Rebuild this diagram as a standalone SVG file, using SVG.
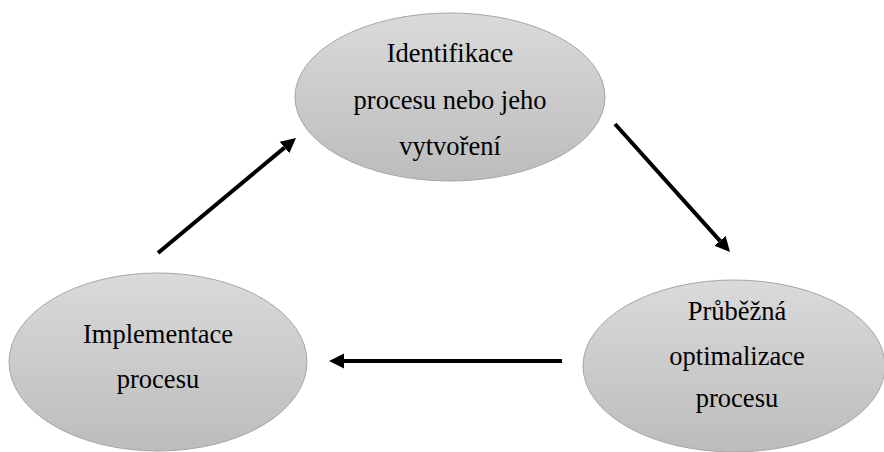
<svg xmlns="http://www.w3.org/2000/svg" width="884" height="452" viewBox="0 0 884 452">
<style>
.node ellipse{fill:url(#g);stroke:#a6a6a6;stroke-width:1}
.node text{font-family:"Liberation Serif","Times New Roman",serif;font-size:26.5px;fill:#000;text-anchor:middle}
.conn line{stroke:#000;stroke-width:4;marker-end:url(#ah)}
</style>
<defs>
<linearGradient id="g" x1="0" y1="0" x2="0" y2="1">
<stop offset="0" stop-color="#dadada"/>
<stop offset="1" stop-color="#bcbcbc"/>
</linearGradient>
<marker id="ah" markerUnits="userSpaceOnUse" viewBox="0 -8 16 16" markerWidth="16" markerHeight="16" refX="0" refY="0" orient="auto">
<path d="M0,-7.5 L15,0 L0,7.5 z" fill="#000"/>
</marker>
</defs>
<rect width="884" height="452" fill="#fff"/>
<g id="node-identifikace" class="node">
<ellipse cx="450" cy="97" rx="155" ry="84"/>
<text x="450" y="62">Identifikace</text>
<text x="450" y="109">procesu nebo jeho</text>
<text x="450" y="155">vytvoření</text>
</g>
<g id="node-optimalizace" class="node">
<ellipse cx="734" cy="366" rx="151" ry="86"/>
<text x="737" y="320">Průběžná</text>
<text x="737" y="365">optimalizace</text>
<text x="737" y="407">procesu</text>
</g>
<g id="node-implementace" class="node">
<ellipse cx="158" cy="362" rx="149" ry="89"/>
<text x="158" y="343">Implementace</text>
<text x="158" y="388">procesu</text>
</g>
<g id="connectors" class="conn">
<line x1="158" y1="253" x2="284.5" y2="147.6"/>
<line x1="615" y1="124" x2="720" y2="240.8"/>
<line x1="562" y1="361" x2="344" y2="361"/>
</g>
</svg>
